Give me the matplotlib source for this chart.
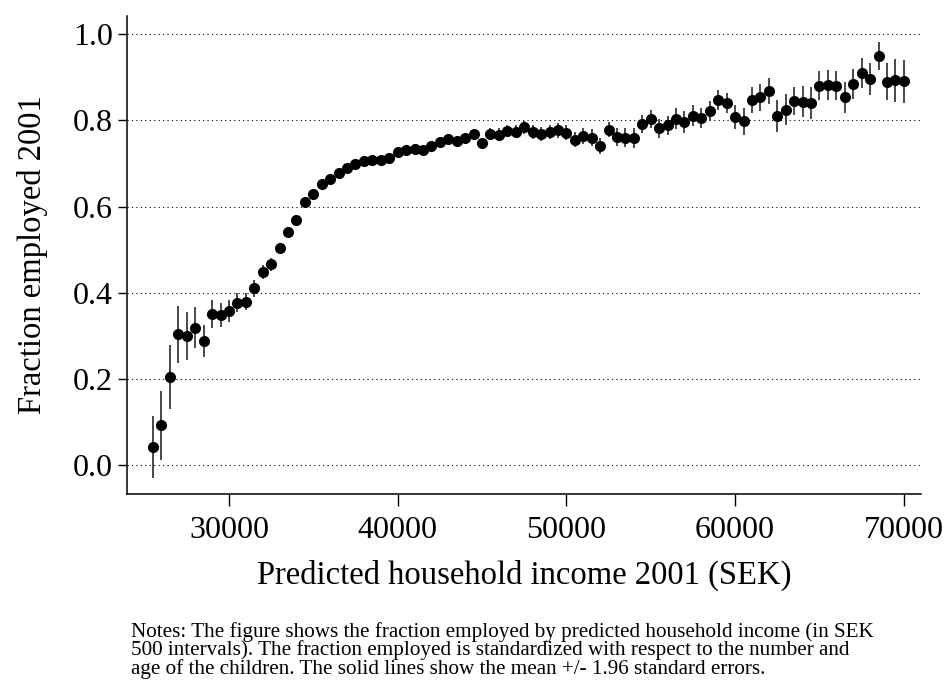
import matplotlib
matplotlib.use("Agg")
import matplotlib.pyplot as plt

plt.rcParams["font.family"] = ["Liberation Serif", "DejaVu Serif"]

# Predicted household income bins (SEK, 500 intervals)
income = [
    25500, 26000, 26500, 27000, 27500, 28000, 28500, 29000, 29500, 30000,
    30500, 31000, 31500, 32000, 32500, 33000, 33500, 34000, 34500, 35000,
    35500, 36000, 36500, 37000, 37500, 38000, 38500, 39000, 39500, 40000,
    40500, 41000, 41500, 42000, 42500, 43000, 43500, 44000, 44500, 45000,
    45500, 46000, 46500, 47000, 47500, 48000, 48500, 49000, 49500, 50000,
    50500, 51000, 51500, 52000, 52500, 53000, 53500, 54000, 54500, 55000,
    55500, 56000, 56500, 57000, 57500, 58000, 58500, 59000, 59500, 60000,
    60500, 61000, 61500, 62000, 62500, 63000, 63500, 64000, 64500, 65000,
    65500, 66000, 66500, 67000, 67500, 68000, 68500, 69000, 69500, 70000,
]

# Standardized fraction employed in 2001
frac_employed = [
    0.042, 0.092, 0.205, 0.304, 0.300, 0.319, 0.288, 0.350, 0.348, 0.357,
    0.377, 0.379, 0.410, 0.448, 0.466, 0.503, 0.541, 0.569, 0.610, 0.629,
    0.653, 0.663, 0.678, 0.690, 0.699, 0.705, 0.708, 0.708, 0.712, 0.726,
    0.730, 0.733, 0.730, 0.740, 0.749, 0.757, 0.751, 0.759, 0.768, 0.747,
    0.768, 0.767, 0.776, 0.774, 0.784, 0.773, 0.768, 0.773, 0.777, 0.771,
    0.755, 0.763, 0.760, 0.741, 0.778, 0.762, 0.759, 0.759, 0.792, 0.802,
    0.781, 0.788, 0.804, 0.796, 0.811, 0.806, 0.822, 0.848, 0.840, 0.808,
    0.798, 0.848, 0.853, 0.868, 0.810, 0.825, 0.845, 0.843, 0.841, 0.880,
    0.882, 0.880, 0.853, 0.884, 0.910, 0.896, 0.949, 0.889, 0.893, 0.891,
]

# 1.96 * standard error (half length of the solid lines)
ci_half = [
    0.072, 0.079, 0.074, 0.066, 0.055, 0.048, 0.036, 0.032, 0.027, 0.026,
    0.022, 0.020, 0.019, 0.017, 0.015, 0.013, 0.012, 0.011, 0.010, 0.010,
    0.009, 0.009, 0.009, 0.009, 0.009, 0.009, 0.009, 0.009, 0.009, 0.009,
    0.010, 0.010, 0.010, 0.010, 0.011, 0.011, 0.011, 0.012, 0.012, 0.013,
    0.013, 0.014, 0.014, 0.015, 0.015, 0.016, 0.016, 0.017, 0.017, 0.017,
    0.018, 0.018, 0.019, 0.019, 0.017, 0.021, 0.022, 0.023, 0.021, 0.021,
    0.022, 0.023, 0.024, 0.025, 0.024, 0.023, 0.023, 0.023, 0.024, 0.028,
    0.031, 0.030, 0.031, 0.031, 0.037, 0.035, 0.033, 0.036, 0.037, 0.034,
    0.034, 0.034, 0.037, 0.034, 0.034, 0.038, 0.032, 0.043, 0.050, 0.050,
]

x_ticks = [30000, 40000, 50000, 60000, 70000]
y_ticks = [0.0, 0.2, 0.4, 0.6, 0.8, 1.0]

NOTES = ("Notes: The figure shows the fraction employed by predicted household income (in SEK\n"
         "500 intervals). The fraction employed is standardized with respect to the number and\n"
         "age of the children. The solid lines show the mean +/- 1.96 standard errors.")

fig = plt.figure(figsize=(9.46, 6.83), dpi=100)
ax = fig.add_axes([0.1342, 0.2767, 0.8394, 0.6999])

# dotted horizontal grid
for yv in y_ticks:
    ax.axhline(yv, color="black", linewidth=0.8, linestyle=(0, (1, 3)), zorder=1)

ax.errorbar(
    income, frac_employed, yerr=ci_half,
    fmt="o", color="black", markersize=8, markeredgewidth=0,
    ecolor="#3a3a3a", elinewidth=1.3, capsize=0, zorder=3,
)

ax.set_xlim(23954, 71020)
ax.set_ylim(-0.067, 1.042)
ax.set_xticks(x_ticks)
ax.set_xticklabels([str(t) for t in x_ticks])
ax.set_yticks(y_ticks)
ax.set_yticklabels([f"{t:.1f}" for t in y_ticks])

for side in ("top", "right"):
    ax.spines[side].set_visible(False)
for side in ("left", "bottom"):
    ax.spines[side].set_linewidth(1.1)

ax.tick_params(axis="y", direction="out", length=6.3, width=1.0, pad=4, labelsize=23)
ax.tick_params(axis="x", direction="out", length=8.6, width=1.0, pad=7, labelsize=23)

ax.set_ylabel("Fraction employed 2001", fontsize=23.5)
ax.yaxis.set_label_coords(-0.0995, 0.5)
ax.set_xlabel("Predicted household income 2001 (SEK)", fontsize=23.5)
ax.xaxis.set_label_coords(0.5, -0.1375)

fig.text(131 / 946, 1 - 622 / 683, NOTES, fontsize=15.2, va="top", ha="left",
         linespacing=0.9)

fig.savefig("out.png", dpi=100)
plt.close(fig)
